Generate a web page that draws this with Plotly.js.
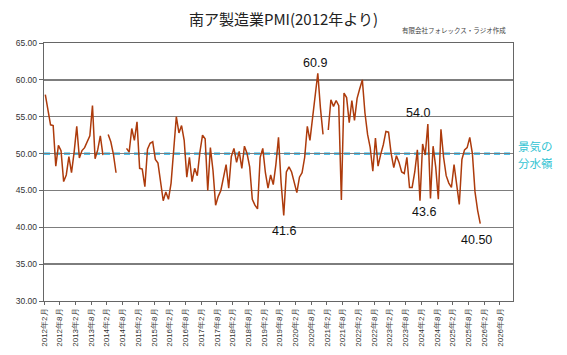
<!DOCTYPE html>
<html><head><meta charset="utf-8">
<script src="https://cdn.plot.ly/plotly-3.0.1.min.js"></script>
<style>html,body{margin:0;padding:0;background:#fff}#c{width:567px;height:355px}</style>
</head><body><div id="c"></div>
<script>
// Tick labels (every 6 months)
const tickLabels = [
  '2012年2月','2012年8月','2013年2月','2013年8月','2014年2月','2014年8月',
  '2015年2月','2015年8月','2016年2月','2016年8月','2017年2月','2017年8月',
  '2018年2月','2018年8月','2019年2月','2019年8月','2020年2月','2020年8月',
  '2021年2月','2021年8月','2022年2月','2022年8月','2023年2月','2023年8月',
  '2024年2月','2024年8月','2025年2月','2025年8月','2026年2月','2026年8月'
];
const monthsPerTick = 6;

// Monthly PMI values from 2012年2月 (null = missing)
const pmi = [
  58.0,55.8,53.9,53.8,48.3,51.1,50.4,46.2,47.1,49.6,
  47.4,50.2,53.7,49.4,50.4,50.8,51.5,52.4,56.5,49.3,
  50.5,52.4,49.8,null,52.6,51.6,49.9,47.4,null,null,
  null,50.7,50.2,53.4,51.8,54.3,48.0,47.9,45.5,50.6,
  51.4,51.6,49.2,48.7,46.4,43.6,44.8,43.8,46.0,50.5,
  55.0,52.8,53.8,51.8,46.8,49.5,46.2,48.0,47.0,50.2,
  52.5,52.0,45.0,50.8,47.7,43.0,44.2,45.0,46.8,48.5,
  45.3,49.6,50.7,48.8,50.3,48.0,51.0,50.0,48.2,43.8,
  43.0,42.5,49.5,50.7,47.4,45.3,47.1,45.8,48.5,52.2,
  46.0,41.6,47.5,48.2,47.5,46.2,44.7,46.8,47.4,49.5,
  53.7,51.8,55.0,58.5,60.9,56.2,52.6,null,53.2,57.3,
  56.4,57.2,56.5,43.7,58.2,57.6,54.2,57.2,54.5,57.5,
  58.8,60.0,55.5,52.6,50.8,47.6,52.1,48.3,49.9,51.2,
  53.0,52.9,50.0,48.1,49.7,48.8,47.5,47.3,49.5,45.4,
  45.4,47.5,50.5,43.6,51.3,49.8,54.0,43.9,51.0,48.2,
  43.8,53.3,49.5,47.0,46.0,45.4,48.5,46.0,43.1,49.2,
  50.5,50.8,52.2,50.0,44.8,42.3,40.5
];
const threshold = 50;
const thresholdLines = ['景気の', '分水嶺'];
// Highlighted values: [index, text, xshift, yshift]
const labelPoints = [
  [104, '60.9', -3, 10],
  [91, '41.6', 0, -16],
  [146, '54.0', -10, 11],
  [143, '43.6', 4, -11],
  [166, '40.50', -4, -16]
];

const xIdx = pmi.map((_, i) => i);
const tickVals = tickLabels.map((_, k) => k * monthsPerTick - 0.5);

const trace = {
  x: xIdx, y: pmi, type: 'scatter', mode: 'lines',
  line: {color: '#ad3b0c', width: 1.5},
  connectgaps: false, hoverinfo: 'skip'
};

const annotations = labelPoints.map(p => ({
  x: p[0], y: pmi[p[0]], xref: 'x', yref: 'y', text: p[1],
  showarrow: false, xshift: p[2], yshift: p[3],
  font: {family: 'Liberation Sans, Arial, sans-serif', size: 12.5, color: '#111'}
}));
thresholdLines.forEach((t, k) => annotations.push({
  x: 1.009, y: threshold, xref: 'paper', yref: 'y', xanchor: 'left', yanchor: 'middle',
  yshift: k === 0 ? 8 : -9, borderpad: 0,
  text: t, showarrow: false,
  font: {family: 'Noto Sans CJK JP', size: 11.5, color: '#31c3d2'}
}));
annotations.push({
  x: 0.989, y: 1.052, xref: 'paper', yref: 'paper', xanchor: 'right', yanchor: 'middle',
  text: '有限会社フォレックス・ラジオ作成', showarrow: false,
  font: {family: 'Noto Sans CJK JP', size: 6.5, color: '#444'}
});

const layout = {
  width: 567, height: 355,
  margin: {l: 44, r: 54, t: 43, b: 54, pad: 0},
  paper_bgcolor: '#fff', plot_bgcolor: '#fff',
  showlegend: false,
  title: {
    text: '南ア製造業PMI(2012年より)', xref: 'container', x: 0.5, xanchor: 'center',
    yref: 'container', y: 0.944, yanchor: 'middle',
    font: {family: 'Noto Sans CJK JP', size: 15, color: '#222'}
  },
  xaxis: {
    range: [-0.5, 178.5], tickmode: 'array', tickvals: tickVals, ticktext: tickLabels,
    tickangle: -90, ticks: 'outside', ticklen: 3, tickcolor: '#666',
    showgrid: false, zeroline: false, showline: true, linecolor: '#666', linewidth: 1.3,
    mirror: true,
    tickfont: {family: 'Liberation Sans, Arial, sans-serif', size: 8, color: '#333'}
  },
  yaxis: {
    range: [30, 65], dtick: 5, tick0: 30, tickformat: '.2f',
    ticks: 'outside', ticklen: 4, tickcolor: '#666',
    showgrid: true, gridcolor: '#7d7d7d', gridwidth: 1.5,
    zeroline: false, showline: true, linecolor: '#666', linewidth: 1.3, mirror: true,
    tickfont: {family: 'Liberation Sans, Arial, sans-serif', size: 8.5, color: '#333'}
  },
  shapes: [{
    type: 'line', xref: 'paper', x0: 0, x1: 1, yref: 'y', y0: threshold, y1: threshold,
    layer: 'between', line: {color: '#12b0e8', width: 2.2, dash: '6px,4px'}
  }],
  annotations: annotations
};

Plotly.newPlot('c', [trace], layout, {staticPlot: true, displayModeBar: false});
</script>
</body></html>
